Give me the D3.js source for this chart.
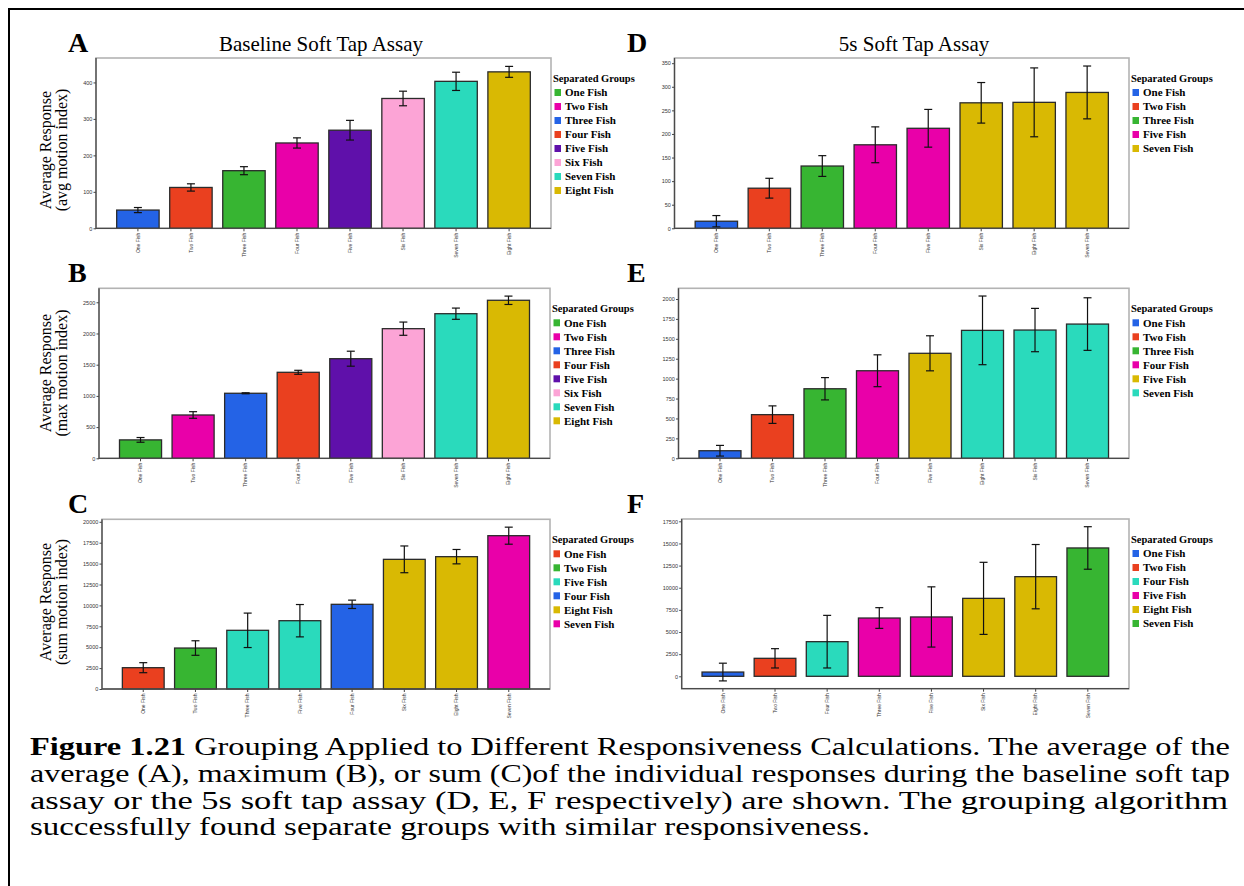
<!DOCTYPE html>
<html>
<head>
<meta charset="utf-8">
<script src="https://cdn.jsdelivr.net/npm/d3@7"></script>
<style>
  body { margin: 0; background: #fff; }
  svg { display: block; }
  .serif { font-family: "Liberation Serif", "Times New Roman", serif; }
  .tick text { font-family: "Liberation Sans", Arial, sans-serif; fill: #333; }
</style>
</head>
<body>
<div id="figure"></div>
<script>
const colors = {
  blue: "#2463e6", red: "#ea401f", green: "#37b532", magenta: "#e900a9",
  purple: "#5f10aa", pink: "#fca4d6", teal: "#2adabc", gold: "#d9b903"
};

// A - baseline, avg motion index
const catsA = ["One Fish", "Two Fish", "Three Fish", "Four Fish", "Five Fish", "Six Fish", "Seven Fish", "Eight Fish"];
const valuesA = [50, 112, 158, 234, 269, 356, 403, 429];
const errorsA = [7, 10, 11, 14, 27, 20, 25, 15];
const barColorsA = ["blue", "red", "green", "magenta", "purple", "pink", "teal", "gold"];
const legendA = ["One Fish", "Two Fish", "Three Fish", "Four Fish", "Five Fish", "Six Fish", "Seven Fish", "Eight Fish"];
const legendColorsA = ["green", "magenta", "blue", "red", "purple", "pink", "teal", "gold"];
const ticksA = [0, 100, 200, 300, 400];

// B - baseline, max motion index
const catsB = ["One Fish", "Two Fish", "Three Fish", "Four Fish", "Five Fish", "Six Fish", "Seven Fish", "Eight Fish"];
const valuesB = [295, 694, 1042, 1378, 1596, 2077, 2317, 2532];
const errorsB = [38, 53, 8, 32, 120, 106, 90, 67];
const barColorsB = ["green", "magenta", "blue", "red", "purple", "pink", "teal", "gold"];
const legendB = ["One Fish", "Two Fish", "Three Fish", "Four Fish", "Five Fish", "Six Fish", "Seven Fish", "Eight Fish"];
const legendColorsB = ["green", "magenta", "blue", "red", "purple", "pink", "teal", "gold"];
const ticksB = [0, 500, 1000, 1500, 2000, 2500];

// C - baseline, sum motion index
const catsC = ["One Fish", "Two Fish", "Three Fish", "Five Fish", "Four Fish", "Six Fish", "Eight Fish", "Seven Fish"];
const valuesC = [2550, 4900, 7020, 8170, 10130, 15510, 15830, 18340];
const errorsC = [600, 870, 2060, 1935, 500, 1600, 860, 1020];
const barColorsC = ["red", "green", "teal", "teal", "blue", "gold", "gold", "magenta"];
const legendC = ["One Fish", "Two Fish", "Five Fish", "Four Fish", "Eight Fish", "Seven Fish"];
const legendColorsC = ["red", "green", "teal", "blue", "gold", "magenta"];
const ticksC = [0, 2500, 5000, 7500, 10000, 12500, 15000, 17500, 20000];

// D - 5s, avg motion index
const catsD = ["One Fish", "Two Fish", "Three Fish", "Four Fish", "Five Fish", "Six Fish", "Eight Fish", "Seven Fish"];
const valuesD = [15, 85, 132, 177, 212, 266, 267, 288];
const errorsD = [12, 21, 22, 38, 40, 43, 73, 56];
const barColorsD = ["blue", "red", "green", "magenta", "magenta", "gold", "gold", "gold"];
const legendD = ["One Fish", "Two Fish", "Three Fish", "Five Fish", "Seven Fish"];
const legendColorsD = ["blue", "red", "green", "magenta", "gold"];
const ticksD = [0, 50, 100, 150, 200, 250, 300, 350];

// E - 5s, max motion index
const catsE = ["One Fish", "Two Fish", "Three Fish", "Four Fish", "Five Fish", "Eight Fish", "Six Fish", "Seven Fish"];
const valuesE = [95, 548, 873, 1099, 1318, 1606, 1610, 1685];
const errorsE = [67, 110, 140, 200, 220, 431, 272, 330];
const barColorsE = ["blue", "red", "green", "magenta", "gold", "teal", "teal", "teal"];
const legendE = ["One Fish", "Two Fish", "Three Fish", "Four Fish", "Five Fish", "Seven Fish"];
const legendColorsE = ["blue", "red", "green", "magenta", "gold", "teal"];
const ticksE = [0, 250, 500, 750, 1000, 1250, 1500, 1750, 2000];

// F - 5s, sum motion index
const catsF = ["One Fish", "Two Fish", "Four Fish", "Three Fish", "Five Fish", "Six Fish", "Eight Fish", "Seven Fish"];
const valuesF = [480, 2030, 3910, 6580, 6700, 8800, 11250, 14490];
const errorsF = [1000, 1090, 2970, 1170, 3400, 4070, 3630, 2400];
const barColorsF = ["blue", "red", "teal", "magenta", "magenta", "gold", "gold", "green"];
const legendF = ["One Fish", "Two Fish", "Four Fish", "Five Fish", "Eight Fish", "Seven Fish"];
const legendColorsF = ["blue", "red", "teal", "magenta", "gold", "green"];
const ticksF = [0, 2500, 5000, 7500, 10000, 12500, 15000, 17500];

const captionLines = [
  ["Figure 1.21", " Grouping Applied to Different Responsiveness Calculations. The average of the"],
  ["", "average (A), maximum (B), or sum (C)of the individual responses during the baseline soft tap"],
  ["", "assay or the 5s soft tap assay (D, E, F respectively) are shown. The grouping algorithm"],
  ["", "successfully found separate groups with similar responsiveness."]
];
// rendered width of each caption line (last line is not justified)
const captionWidths = [1200, 1200, 1198, 840];

const W = 1244, H = 886;

const panels = [
  { letter: "A", title: "Baseline Soft Tap Assay", ylab: "(avg motion index)", cats: catsA, values: valuesA, errors: errorsA,
    barColors: barColorsA, legend: legendA, legendColors: legendColorsA, ticks: ticksA, domain: [0, 467],
    frame: { x0: 96, x1: 551, y0: 58, y1: 228.3 }, labelY: 150 },
  { letter: "B", ylab: "(max motion index)", cats: catsB, values: valuesB, errors: errorsB,
    barColors: barColorsB, legend: legendB, legendColors: legendColorsB, ticks: ticksB, domain: [0, 2724],
    frame: { x0: 99, x1: 550, y0: 288.3, y1: 458.3 }, labelY: 373 },
  { letter: "C", ylab: "(sum motion index)", cats: catsC, values: valuesC, errors: errorsC,
    barColors: barColorsC, legend: legendC, legendColors: legendColorsC, ticks: ticksC, domain: [0, 20300],
    frame: { x0: 102, x1: 550, y0: 519.3, y1: 689 }, labelY: 602 },
  { letter: "D", title: "5s Soft Tap Assay", cats: catsD, values: valuesD, errors: errorsD,
    barColors: barColorsD, legend: legendD, legendColors: legendColorsD, ticks: ticksD, domain: [0, 361],
    frame: { x0: 674.5, x1: 1129, y0: 58, y1: 228.3 }, titleX: 914 },
  { letter: "E", cats: catsE, values: valuesE, errors: errorsE,
    barColors: barColorsE, legend: legendE, legendColors: legendColorsE, ticks: ticksE, domain: [0, 2134],
    frame: { x0: 678.5, x1: 1129, y0: 288.3, y1: 458.3 } },
  { letter: "F", cats: catsF, values: valuesF, errors: errorsF,
    barColors: barColorsF, legend: legendF, legendColors: legendColorsF, ticks: ticksF, domain: [-1400, 17760],
    frame: { x0: 681.7, x1: 1129, y0: 519, y1: 688.7 } }
];

const svg = d3.select("#figure").append("svg")
  .attr("width", W)
  .attr("height", H);

svg.append("rect").attr("width", W).attr("height", H).attr("fill", "#fff");

// outer box of the figure page
svg.append("path")
  .attr("d", `M9,${H} V9 H${W}`)
  .attr("fill", "none")
  .attr("stroke", "#000")
  .attr("stroke-width", 2);

panels.forEach(p => drawPanel(p));

function drawPanel(p) {
  const f = p.frame;
  const g = svg.append("g");

  const x = d3.scaleBand()
    .domain(p.cats)
    .range([f.x0, f.x1])
    .paddingInner(0.2)
    .paddingOuter(0.39);

  const y = d3.scaleLinear()
    .domain(p.domain)
    .range([f.y1, f.y0]);

  // panel letter
  g.append("text")
    .attr("class", "serif")
    .attr("x", f.x0 < 300 ? 68 : 627)
    .attr("y", f.y0 - 6)
    .attr("font-size", 28)
    .attr("font-weight", "bold")
    .text(p.letter);

  if (p.title) {
    g.append("text")
      .attr("class", "serif")
      .attr("x", p.titleX || 321)
      .attr("y", 51)
      .attr("text-anchor", "middle")
      .attr("font-size", 21)
      .text(p.title);
  }

  // plot frame
  g.append("rect")
    .attr("x", f.x0).attr("y", f.y0)
    .attr("width", f.x1 - f.x0).attr("height", f.y1 - f.y0)
    .attr("fill", "#fff")
    .attr("stroke", "#b3b3b3")
    .attr("stroke-width", 1.6);

  // bars
  g.selectAll("rect.bar")
    .data(p.cats)
    .enter()
    .append("rect")
      .attr("class", "bar")
      .attr("x", d => x(d))
      .attr("width", x.bandwidth())
      .attr("y", (d, i) => y(Math.max(p.values[i], 0)))
      .attr("height", (d, i) => Math.abs(y(p.values[i]) - y(0)))
      .attr("fill", (d, i) => colors[p.barColors[i]])
      .attr("stroke", "#2b2b2b")
      .attr("stroke-width", 1.3);

  // error bars
  const eb = g.selectAll("g.err")
    .data(p.cats)
    .enter()
    .append("g")
      .attr("class", "err")
      .attr("stroke", "#111")
      .attr("stroke-width", 1.2);
  const cx = d => x(d) + x.bandwidth() / 2;
  eb.append("line")
    .attr("x1", cx).attr("x2", cx)
    .attr("y1", (d, i) => y(p.values[i] - p.errors[i]))
    .attr("y2", (d, i) => y(p.values[i] + p.errors[i]));
  [-1, 1].forEach(s => {
    eb.append("line")
      .attr("x1", d => cx(d) - 4).attr("x2", d => cx(d) + 4)
      .attr("y1", (d, i) => y(p.values[i] + s * p.errors[i]))
      .attr("y2", (d, i) => y(p.values[i] + s * p.errors[i]));
  });

  // axes
  const yAxis = g.append("g")
    .attr("transform", `translate(${f.x0},0)`)
    .call(d3.axisLeft(y).tickValues(p.ticks).tickSize(2.5).tickPadding(1.2).tickFormat(d3.format("d")));
  yAxis.attr("font-size", 5.5);
  yAxis.select(".domain").remove();
  yAxis.selectAll(".tick line").attr("stroke", "#444");

  const xAxis = g.append("g")
    .attr("transform", `translate(0,${f.y1})`)
    .call(d3.axisBottom(x).tickSize(3).tickSizeOuter(0));
  xAxis.attr("font-size", 5);
  xAxis.select(".domain").remove();
  xAxis.selectAll(".tick line").attr("stroke", "#444");
  xAxis.selectAll(".tick text")
    .attr("transform", "rotate(-90)")
    .attr("x", -4.5)
    .attr("y", 0)
    .attr("dy", "0.35em")
    .style("text-anchor", "end");

  g.append("path")
    .attr("d", `M${f.x0},${f.y0} V${f.y1} H${f.x1}`)
    .attr("fill", "none")
    .attr("stroke", "#4a4a4a")
    .attr("stroke-width", 1.3);

  // y label, left column only
  if (p.ylab) {
    const lab = g.append("g")
      .attr("class", "serif")
      .attr("transform", `translate(46,${p.labelY}) rotate(-90)`)
      .attr("font-size", 16)
      .attr("text-anchor", "middle");
    lab.append("text").attr("y", 5).text("Average Response");
    lab.append("text").attr("y", 21).text(p.ylab);
  }

  // legend
  const lx = f.x1 + 2;
  const ly = f.y0 + 20;
  const leg = g.append("g").attr("class", "serif").attr("font-weight", "bold");
  leg.append("text")
    .attr("x", lx).attr("y", ly)
    .attr("dy", "0.35em")
    .attr("font-size", 10.5)
    .text("Separated Groups");
  const items = leg.selectAll("g.item")
    .data(p.legend)
    .enter()
    .append("g")
      .attr("class", "item")
      .attr("transform", (d, i) => `translate(${lx},${ly + 14.5 + i * 14})`);
  items.append("rect")
    .attr("x", 1.5).attr("y", -3.5)
    .attr("width", 6.5).attr("height", 7)
    .attr("fill", (d, i) => colors[p.legendColors[i]]);
  items.append("text")
    .attr("x", 12)
    .attr("dy", "0.35em")
    .attr("font-size", 11)
    .text(d => d);
}

// caption
const cap = svg.append("g").attr("class", "serif").attr("font-size", 25.5);
captionLines.forEach((line, i) => {
  const t = cap.append("text")
    .attr("x", 30)
    .attr("y", 755 + i * 26.8)
    .attr("textLength", captionWidths[i])
    .attr("lengthAdjust", "spacingAndGlyphs");
  if (line[0]) t.append("tspan").attr("font-weight", "bold").text(line[0]);
  t.append("tspan").text(line[1]);
});
</script>
</body>
</html>
